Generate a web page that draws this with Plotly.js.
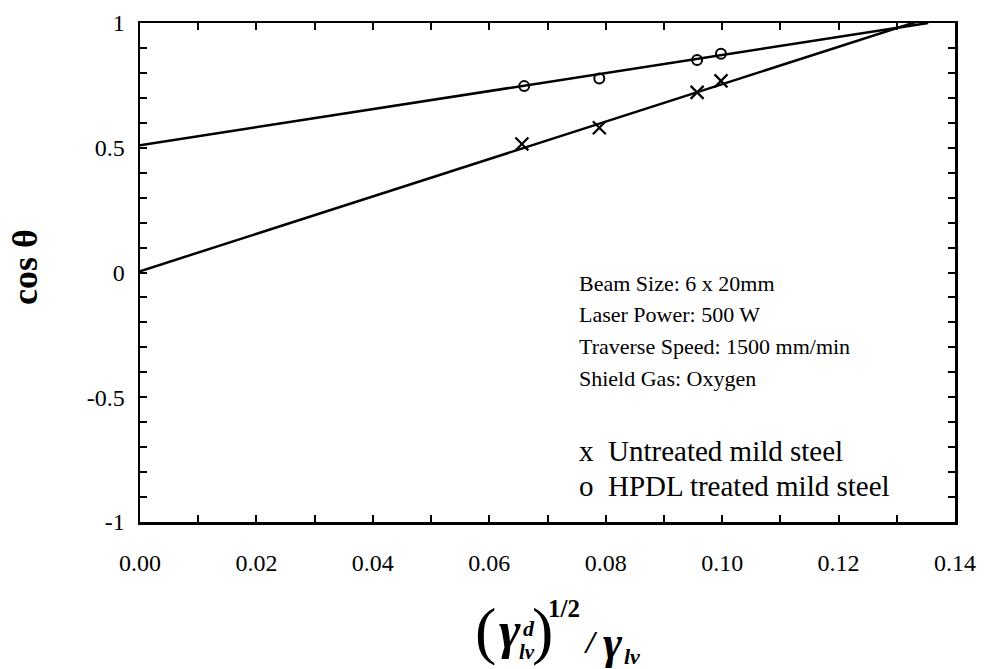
<!DOCTYPE html>
<html>
<head>
<meta charset="utf-8">
<script src="https://cdn.plot.ly/plotly-3.0.1.min.js"></script>
<style>html,body{margin:0;padding:0;background:#fff;}#chart{width:985px;height:669px;}</style>
</head>
<body>
<div id="chart"></div>
<script>
// Data
var untreatedX = [0.0656, 0.0789, 0.0957, 0.0998];
var untreatedY = [0.515, 0.580, 0.722, 0.768];
var hpdlX = [0.0660, 0.0789, 0.0957, 0.0998];
var hpdlY = [0.747, 0.778, 0.852, 0.877];
// Fitted straight lines (end points)
var untreatedFitX = [0.0, 0.1354];
var untreatedFitY = [0.005, 1.02];
var hpdlFitX = [0.0, 0.1354];
var hpdlFitY = [0.51, 1.0];
var xTickVals = [0, 0.02, 0.04, 0.06, 0.08, 0.10, 0.12, 0.14];
var xTickText = ["0.00", "0.02", "0.04", "0.06", "0.08", "0.10", "0.12", "0.14"];
var yTickVals = [-1, -0.5, 0, 0.5, 1];
var yTickText = ["-1", "-0.5", "0", "0.5", "1"];
var infoLines = ["Beam Size: 6 x 20mm", "Laser Power: 500 W", "Traverse Speed: 1500 mm/min", "Shield Gas: Oxygen"];
var legendLines = ["x  Untreated mild steel", "o  HPDL treated mild steel"];

var L = 140, R = 955, T = 23, B = 522;
function px(x) { return (x - L) / (R - L); }
function py(y) { return (B - y) / (B - T); }
var serif = "Liberation Serif, Times New Roman, serif";

var traces = [
  {x: untreatedFitX, y: untreatedFitY, mode: "lines", line: {color: "#000", width: 2.5}, hoverinfo: "skip"},
  {x: hpdlFitX, y: hpdlFitY, mode: "lines", line: {color: "#000", width: 2.5}, hoverinfo: "skip"},
  {x: untreatedX, y: untreatedY, mode: "markers", marker: {symbol: "x-thin-open", size: 13, color: "#000", line: {color: "#000", width: 2.2}}},
  {x: hpdlX, y: hpdlY, mode: "markers", marker: {symbol: "circle-open", size: 10, color: "#000", line: {color: "#000", width: 2}}}
];

var ann = [];
infoLines.forEach(function (t, i) {
  ann.push({text: t, xref: "paper", yref: "paper", x: px(577), y: py(283 + i * 31.7), xanchor: "left", yanchor: "middle",
    showarrow: false, font: {family: serif, size: 22, color: "#000"}});
});
legendLines.forEach(function (t, i) {
  ann.push({text: t, xref: "paper", yref: "paper", x: px(577), y: py(451 + i * 35), xanchor: "left", yanchor: "middle",
    showarrow: false, font: {family: serif, size: 29, color: "#000"}});
});
// y title
ann.push({text: "<b>cos θ</b>", xref: "paper", yref: "paper", x: px(25), y: py(267), xanchor: "center", yanchor: "middle",
  textangle: -90, showarrow: false, font: {family: serif, size: 36, color: "#000"}});
// x title pieces
function piece(t, x, y, s) {
  ann.push({text: t, xref: "paper", yref: "paper", x: px(x), y: py(y), xanchor: "center", yanchor: "middle",
    showarrow: false, font: {family: serif, size: s, color: "#000"}});
}
piece("(", 485, 630, 64);
piece("<b><i>γ</i></b>", 510, 631, 52);
piece("<b><i>d</i></b>", 529, 628, 22);
piece("<b><i>lv</i></b>", 527, 652, 21);
piece(")", 542, 630, 64);
piece("<b>1/2</b>", 564, 608, 25);
piece("<b><i>/</i></b>", 591, 642, 32);
piece("<b><i>γ</i></b>", 613, 642, 46);
piece("<b><i>lv</i></b>", 632, 656, 22);

var layout = {
  width: 985, height: 669,
  margin: {l: L, r: 985 - R, t: T, b: 669 - B},
  paper_bgcolor: "#fff", plot_bgcolor: "#fff",
  showlegend: false,
  xaxis: {range: [0, 0.14], tickvals: xTickVals, ticktext: xTickText, ticks: "inside", ticklen: 7, tickwidth: 2,
    tickcolor: "#000", showline: true, linecolor: "#000", linewidth: 2.5, mirror: "allticks", showgrid: false, zeroline: false,
    tickfont: {family: serif, size: 24, color: "#000"}, ticklabelstandoff: 18,
    minor: {dtick: 0.01, tick0: 0, ticks: "inside", ticklen: 7, tickwidth: 2, tickcolor: "#000", showgrid: false}},
  yaxis: {range: [-1, 1], tickvals: yTickVals, ticktext: yTickText, ticks: "inside", ticklen: 7, tickwidth: 2,
    tickcolor: "#000", showline: true, linecolor: "#000", linewidth: 2.5, mirror: "allticks", showgrid: false, zeroline: false,
    tickfont: {family: serif, size: 24, color: "#000"}, ticklabelstandoff: 8,
    minor: {dtick: 0.1, tick0: 0, ticks: "inside", ticklen: 7, tickwidth: 2, tickcolor: "#000", showgrid: false}},
  annotations: ann
};
Plotly.newPlot("chart", traces, layout, {displayModeBar: false, staticPlot: true});
</script>
</body>
</html>
